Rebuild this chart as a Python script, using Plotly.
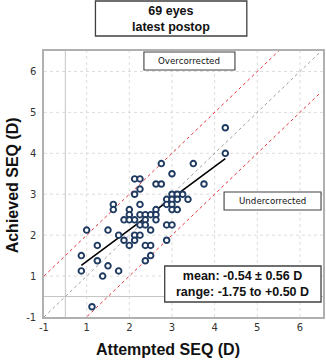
import plotly.graph_objects as go

# Data (attempted SEQ, achieved SEQ) (display units)
attempted = [4.25, 4.25, 2.75, 3.5, 3.0, 2.125, 2.25, 2.625, 2.75, 3.75,
             2.25, 2.125, 3.0, 3.125, 3.25, 2.875, 3.0, 3.125, 3.375, 2.875,
             3.0, 1.625, 1.625, 2.25, 3.0, 3.125, 2.0, 2.0, 2.625, 2.25,
             2.375, 2.5, 2.625, 1.875, 2.0, 2.125, 2.375, 2.625, 2.25, 2.375,
             2.5, 2.875, 3.0, 1.0, 1.5, 1.75, 2.125, 2.25, 1.875, 2.125,
             2.875, 1.25, 2.0, 2.375, 2.5, 0.875, 1.25, 1.5, 2.5, 2.375,
             0.875, 1.375, 1.75, 1.125]
achieved = [4.625, 4.0, 3.75, 3.75, 3.5, 3.375, 3.375, 3.25, 3.25, 3.25,
            3.125, 3.0, 3.0, 3.0, 3.0, 2.875, 2.875, 2.875, 2.875, 2.75,
            2.75, 2.75, 2.625, 2.75, 2.625, 2.625, 2.625, 2.5, 2.625, 2.5,
            2.5, 2.5, 2.5, 2.375, 2.375, 2.375, 2.375, 2.375, 2.25, 2.25,
            2.125, 2.25, 2.25, 2.125, 2.125, 2.0, 2.0, 2.0, 1.875, 1.875,
            1.875, 1.75, 1.75, 1.75, 1.75, 1.5, 1.375, 1.25, 1.5, 1.375,
            1.125, 1.0, 1.125, 0.25]
trend_x = [0.875, 4.25]
trend_y = [1.26, 3.87]
ref_x = [0, 6.5]
tick_vals = [0, 1, 2, 3, 4, 5, 6]
tick_text = ["-1", "1", "2", "3", "4", "5", "6"]
title_lines = ["69 eyes", "latest postop"]
stats_lines = ["mean: -0.54 ± 0.56 D", "range: -1.75 to +0.50 D"]

FONT = "DejaVu Sans"
BFONT = "Liberation Sans"
fig = go.Figure()

# reference lines
fig.add_trace(go.Scatter(x=ref_x, y=ref_x, mode="lines",
                         line=dict(color="#a0a0a0", width=1, dash="dot"), hoverinfo="skip"))
fig.add_trace(go.Scatter(x=ref_x, y=[v + 1 for v in ref_x], mode="lines",
                         line=dict(color="#e8333b", width=1, dash="dot"), hoverinfo="skip"))
fig.add_trace(go.Scatter(x=ref_x, y=[v - 1 for v in ref_x], mode="lines",
                         line=dict(color="#e8333b", width=1, dash="dot"), hoverinfo="skip"))
# trend line
fig.add_trace(go.Scatter(x=trend_x, y=trend_y, mode="lines",
                         line=dict(color="black", width=1.6), hoverinfo="skip"))
# data points
fig.add_trace(go.Scatter(x=attempted, y=achieved, mode="markers",
                         marker=dict(symbol="circle", size=5.6, color="white",
                                     line=dict(color="#1f3a60", width=1.9))))

shapes = []
# integer grid (dotted)
for v in range(1, 7):
    shapes.append(dict(type="line", xref="x", yref="paper", x0=v, x1=v, y0=0, y1=1,
                       line=dict(color="#dcdcdc", width=1, dash="dot"), layer="below"))
    shapes.append(dict(type="line", xref="paper", yref="y", x0=0, x1=1, y0=v, y1=v,
                       line=dict(color="#dcdcdc", width=1, dash="dot"), layer="below"))
# 0.5 lines
shapes.append(dict(type="line", xref="x", yref="paper", x0=0.5, x1=0.5, y0=0, y1=1,
                   line=dict(color="#c4c4c4", width=1), layer="below"))
shapes.append(dict(type="line", xref="paper", yref="y", x0=0, x1=1, y0=0.5, y1=0.5,
                   line=dict(color="#c4c4c4", width=1), layer="below"))

L, B, W, H = 44, 317, 282, 266


def px2paper(px, py):
    return (px - L) / W, (B - py) / H


def pbox(x0, x1, y0, y1, w=1.3):
    shapes.append(dict(type="rect", xref="paper", yref="paper",
                       x0=(x0 - L) / W, x1=(x1 - L) / W, y0=(B - y1) / H, y1=(B - y0) / H,
                       line=dict(color="#404040", width=w), fillcolor="white", layer="above"))
    return px2paper((x0 + x1) / 2, (y0 + y1) / 2)


anns = []


def ann(pos, text, size, family, bold=False, angle=0):
    anns.append(dict(x=pos[0], y=pos[1], xref="paper", yref="paper", showarrow=False,
                     xanchor="center", yanchor="middle", textangle=angle,
                     text=("<b>%s</b>" % text) if bold else text,
                     font=dict(family=family, size=size, color="#111")))


ann(pbox(96, 249, 1, 36), "<br>".join(title_lines), 12.5, BFONT, True)
ann(pbox(145, 237, 52, 70, 1.1), "Overcorrected", 8.7, FONT)
ann(pbox(226, 324, 192, 210, 1.1), "Undercorrected", 8.7, FONT)
ann(pbox(166, 324, 266, 302), "<br>".join(stats_lines), 12.5, BFONT, True)
ann(px2paper(169, 349), "Attempted SEQ (D)", 16, BFONT, True)
ann(px2paper(12, 185), "Achieved SEQ (D)", 16, BFONT, True, -90)

axis_common = dict(tickvals=tick_vals, ticktext=tick_text, showgrid=False, zeroline=False,
                   showline=True, linecolor="#b0b0b0", linewidth=1.5, mirror=True,
                   ticks="", tickfont=dict(family=FONT, size=10, color="#333"))
fig.update_layout(
    width=326, height=361, margin=dict(l=44, r=1, t=51, b=44),
    paper_bgcolor="white", plot_bgcolor="white", showlegend=False,
    xaxis=dict(range=[0, 6.54], **axis_common),
    yaxis=dict(range=[0, 6.5], ticklabelstandoff=4, **axis_common),
    shapes=shapes, annotations=anns,
)
fig.write_html("out.html")
